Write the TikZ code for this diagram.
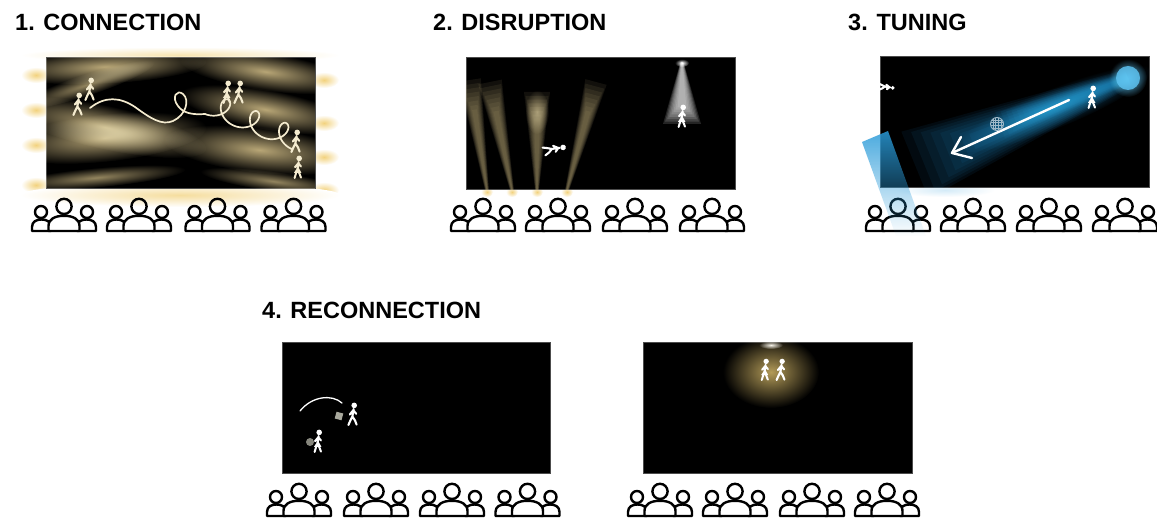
\documentclass[tikz,border=0pt]{standalone}
\usepackage{fontspec}
\setmainfont{Liberation Sans}
\usetikzlibrary{calc,fadings}

\definecolor{cream}{HTML}{F4EBCF}
\definecolor{khaki}{HTML}{B8A676}
\definecolor{glowY}{HTML}{F2D27E}
\definecolor{beamB}{HTML}{1E8CCF}
\definecolor{spotB}{HTML}{5CC0EE}
\definecolor{bandB}{HTML}{2A9BD9}
\definecolor{goldG}{HTML}{B39B58}
\definecolor{gridc}{HTML}{9FB9C8}
\definecolor{boxg}{HTML}{A8A89C}

\tikzfading[name=bandfade, top color=transparent!0, middle color=transparent!15, bottom color=transparent!100]

% soft light beam: nested translucent quads from #1 to #2,
% half widths #3 (source) and #4 (far end), colour #5, layer opacity #6
\newcommand\lightbeam[6]{%
  \coordinate (bmA) at #1;
  \coordinate (bmB) at #2;
  \foreach \bmf in {1,0.89,0.78,0.67,0.56,0.45,0.34,0.23}{%
    \pgfmathsetmacro\bmlf{1-0.35*(1-\bmf)}%
    \coordinate (bmE) at ($(bmA)!\bmlf!(bmB)$);
    \fill[#5, opacity=#6]
      ($(bmA)!\bmf*#3pt!90:(bmB)$) -- ($(bmE)!\bmf*#4pt!-90:(bmA)$)
      -- ($(bmE)!\bmf*#4pt!90:(bmA)$) -- ($(bmA)!\bmf*#3pt!-90:(bmB)$) -- cycle;
  }}

% diffuse glow along a direction: from (#1,#2) towards (#3,#4), half width #5, colour #6
% (a radial shading fading to black, drawn with the screen blend mode)
\newcommand\glowbeam[6]{%
  \pgfmathsetmacro\gbx{#1+0.42*(#3-#1)}%
  \pgfmathsetmacro\gby{#2+0.42*(#4-#2)}%
  \pgfmathsetmacro\gbl{0.62*veclen(#3-#1,#4-#2)}%
  \pgfmathsetmacro\gba{atan2(#2-#4,#3-#1)}%
  \begin{scope}[transform canvas={rotate around={\gba:(\gbx,\gby)}}]
    \shade[inner color=#6, outer color=black] (\gbx,\gby) ellipse ({\gbl} and {#5});
  \end{scope}}

\tikzset{
  stage/.style={fill=black, draw=black!70, line width=0.4pt, inner sep=0pt},
  lightmix/.style={blend mode=screen},
  titlelbl/.style={anchor=base west, inner sep=0pt, font=\fontsize{23.5}{28}\selectfont\bfseries},
  trail/.style={line width=1.7pt, line cap=round, line join=round},
  arrowline/.style={white, line width=2.4pt, line cap=round, line join=round},
  walker/.pic={
    \draw[line width=2.1pt, line cap=round, line join=round]
      (0.6,-16) -- (-0.6,-8.5) -- (-2.8,-4.2) -- (-4.6,0)
      (-0.6,-8.5) -- (2,-4.6) -- (3.6,-0.4)
      (-3.2,-10.5) -- (0.3,-14.8) -- (3.2,-11.2);
    \fill (1.2,-19.6) circle (2.8);
  },
  walkerdress/.pic={
    \draw[line width=2pt, line cap=round, line join=round]
      (0.6,-16) -- (-0.4,-9)
      (-1.6,-6) -- (-3.4,0)
      (0.8,-6) -- (3,-0.4)
      (-3,-10.8) -- (0.3,-14.8) -- (3,-11.5);
    \fill (0,-11.5) -- (-4,-5.2) -- (3.4,-5.2) -- cycle;
    \fill (1.2,-19.6) circle (2.8);
  },
  crowd/.pic={
    \begin{scope}[line width=2.4pt, line join=round]
      \draw (-23,-19) circle (6);
      \draw (23,-19) circle (6);
      \draw (-32,0) -- (-32,-4) .. controls (-32,-9.5) and (-27.5,-11.5) .. (-22.5,-11.5)
            .. controls (-17.5,-11.5) and (-13,-9.5) .. (-13,-4) -- (-13,0) -- cycle;
      \draw (32,0) -- (32,-4) .. controls (32,-9.5) and (27.5,-11.5) .. (22.5,-11.5)
            .. controls (17.5,-11.5) and (13,-9.5) .. (13,-4) -- (13,0) -- cycle;
      \draw (0,-24.6) circle (7.6);
      \filldraw[fill=white] (-15.5,0) -- (-15.5,-5) .. controls (-15.5,-12) and (-9,-15.2) .. (0,-15.2)
            .. controls (9,-15.2) and (15.5,-12) .. (15.5,-5) -- (15.5,0) -- cycle;
    \end{scope}
  }
}

\begin{document}
\begin{tikzpicture}[x=1pt,y=-1pt]
\useasboundingbox (0,0) rectangle (1157,518);
\fill[white] (0,0) rectangle (1157,518);

% ---------- titles
\node[titlelbl] (t1) at (15,31) {1. CONNECTION};
\node[titlelbl] (t2) at (433,31) {2. DISRUPTION};
\node[titlelbl] (t3) at (848,31) {3. TUNING};
\node[titlelbl] (t4) at (262,319) {4. RECONNECTION};

% ================= 1. CONNECTION
\foreach \gy in {75,110,145,185}{
  \shade[inner color=glowY, outer color=white] (36,\gy) ellipse (15 and 8);}
\foreach \gy in {80,123,157,190}{
  \shade[inner color=glowY, outer color=white] (324,\gy) ellipse (15 and 8);}
\shade[inner color=glowY!60!white, outer color=white] (180,55) ellipse (160 and 8);
\shade[inner color=glowY!75!white, outer color=white] (180,195) ellipse (160 and 12);

\node[stage, minimum width=269pt, minimum height=131pt] (s1) at (180.5,122.5) {};
\begin{scope}[lightmix]
  \clip (s1.south west) rectangle (s1.north east);
  \glowbeam{36}{70}{200}{62}{17}{khaki}
  \glowbeam{40}{100}{150}{64}{11}{khaki!80!black}
  \glowbeam{36}{112}{200}{148}{22}{khaki}
  \glowbeam{36}{145}{200}{128}{24}{khaki}
  \glowbeam{36}{183}{180}{170}{10}{khaki!80!black}
  \glowbeam{324}{80}{185}{60}{19}{khaki}
  \glowbeam{324}{120}{185}{95}{20}{khaki}
  \glowbeam{324}{157}{170}{140}{23}{khaki}
  \glowbeam{324}{188}{205}{172}{10}{khaki!80!black}
\end{scope}

% trail with loops
\draw[trail, cream] (90,108) .. controls (105,96) and (120,97) .. (135,107)
   .. controls (150,118) and (162,126) .. (173,121)
   .. controls (186,115) and (190,100) .. (183,94)
   .. controls (177,89) and (171,97) .. (178,106)
   .. controls (183,113) and (192,115) .. (205,114);
\begin{scope}[shift={(205,114)}, rotate=-22]
  \draw[trail, cream] plot[domain=0:1080, samples=220, variable=\t]
    ({0.08727*\t + 11*sin(\t)}, {11*(cos(\t)-1)});
\end{scope}

\pic[cream] at (78,115) {walker};
\pic[cream] at (90,100) {walker};
\pic[cream] at (227,103) {walkerdress};
\pic[cream] at (239,103) {walker};
\pic[cream] at (296,152) {walker};
\pic[cream] at (298,178) {walkerdress};

\foreach \cx in {64,139,217.5,293.5}{\pic at (\cx,231) {crowd};}

% ================= 2. DISRUPTION
\foreach \gx in {487,512,537,567}{
  \shade[inner color=glowY, outer color=white] (\gx,192) ellipse (6 and 5);}
\node[stage, minimum width=269pt, minimum height=132pt] (s2) at (600.5,123) {};
\begin{scope}
  \clip (s2.south west) rectangle (s2.north east);
  \lightbeam{(487,190)}{(470,80)}{2}{11}{khaki}{0.1}
  \lightbeam{(512,190)}{(490,82)}{2}{12}{khaki}{0.1}
  \lightbeam{(537,190)}{(537,92)}{2}{13}{khaki}{0.1}
  \lightbeam{(567,190)}{(596,82)}{2}{11}{khaki}{0.1}
  % spotlight cone
  \lightbeam{(682,62)}{(682,124)}{1.5}{19}{white}{0.14}
\end{scope}
\begin{scope}[lightmix]
  \clip (s2.south west) rectangle (s2.north east);
  \shade[inner color=khaki!70!black, outer color=black] (537,112) ellipse (12 and 22);
  \shade[inner color=white, outer color=black] (682,63) ellipse (7 and 4);
\end{scope}
\pic[white, rotate=-73] at (544,152) {walker};
\pic[white] at (682,127) {walkerdress};

\foreach \cx in {483,558,635,712}{\pic at (\cx,231) {crowd};}

% ================= 3. TUNING
\shade[inner color=bandB!20!white, outer color=white] (945,190) ellipse (50 and 7);
\node[stage, minimum width=269pt, minimum height=131pt] (s3) at (1014.5,121.5) {};
\begin{scope}
  \clip (s3.south west) rectangle (s3.north east);
  \lightbeam{(1128,78)}{(915,165)}{9}{36}{beamB}{0.08}
  \lightbeam{(1128,78)}{(1000,125)}{6}{14}{beamB}{0.07}
\end{scope}
\begin{scope}[lightmix]
  \clip (s3.south west) rectangle (s3.north east);
  \glowbeam{1120}{82}{960}{146}{20}{beamB!60!black}
  \shade[inner color=spotB, outer color=black] (1128,78) circle (19);
\end{scope}
\fill[spotB, opacity=0.85] (1128,78) circle (12);

% travel arrow
\coordinate (arS) at (1069,100);
\coordinate (arT) at (952,153);
\coordinate (arL) at (961,137);
\coordinate (arR) at (972,158);
\draw[arrowline] (arS) -- (arT);
\draw[arrowline] (arL) -- (arT) -- (arR);

% small grid globe
\begin{scope}
  \clip (997,124) circle (6.5);
  \foreach \gd in {-4,-1.5,1.5,4}{
    \draw[gridc, line width=0.6pt] (997+\gd,116) -- (997+\gd,132);
    \draw[gridc, line width=0.6pt] (989,124+\gd) -- (1005,124+\gd);}
\end{scope}
\draw[gridc, line width=0.9pt] (997,124) circle (6.5);

\pic[white] at (1092,108) {walkerdress};
\pic[white, rotate=-90, scale=0.7] at (879,87) {walker};

\foreach \cx in {898,973,1049,1125}{\pic at (\cx,231) {crowd};}

% side beam crossing the front row
\fill[bandB, opacity=0.85, path fading=bandfade] (862,142) -- (888,131) -- (926,236) -- (896,236) -- cycle;

% ================= 4. RECONNECTION (left)
\node[stage, minimum width=268pt, minimum height=131pt] (s4) at (416,407.5) {};
\draw[white, line width=1.3pt, line cap=round] (300,411) .. controls (312,396) and (332,394) .. (342,403);
\fill[boxg, rotate around={-15:(339,416)}] (335.5,412.5) rectangle (342.5,419.5);
\pic[white] at (353,425) {walker};
\fill[boxg, opacity=0.8] (310,442) circle (4);
\pic[white] at (318,452) {walkerdress};

\foreach \cx in {299,376,452,527.5}{\pic at (\cx,516) {crowd};}

% ================= 4. RECONNECTION (right)
\node[stage, minimum width=269pt, minimum height=131pt] (s5) at (777.5,407.5) {};
\begin{scope}[lightmix]
  \clip (s5.south west) rectangle (s5.north east);
  \shade[inner color=goldG, outer color=black] (771,372) ellipse (48 and 36);
  \shade[inner color=white!85!goldG, outer color=black] (771,345) ellipse (12 and 4);
\end{scope}
\pic[white, scale=0.95] at (765,380) {walkerdress};
\pic[white, scale=0.95] at (781,380) {walker};

\foreach \cx in {660,735,812,887}{\pic at (\cx,516) {crowd};}

\end{tikzpicture}
\end{document}
